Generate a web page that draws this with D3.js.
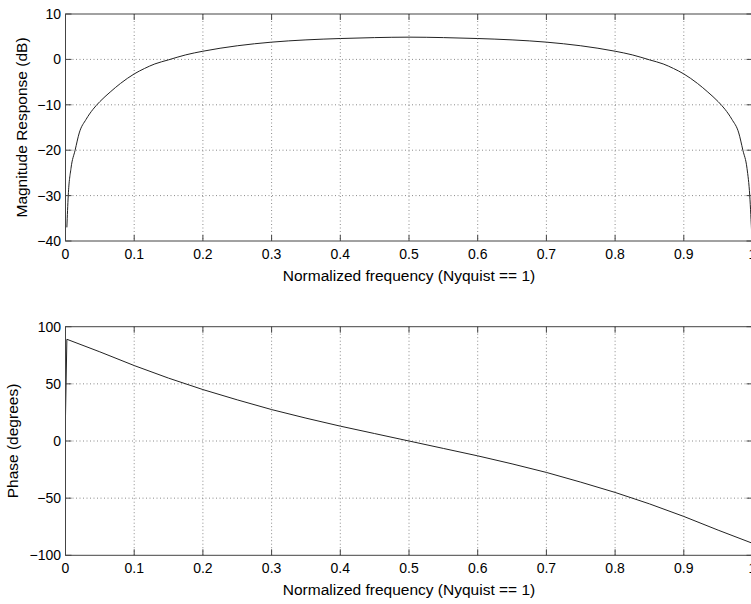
<!DOCTYPE html>
<meta charset="utf-8">
<style>
  body { margin: 0; background: #fff; }
  text { font-family: "Liberation Sans", Arial, Helvetica, sans-serif; fill: #000; }
</style>
<script src="https://d3js.org/d3.v7.min.js"></script>
<div id="chart"></div>
<script>
  // frequency response
  var magFreq = [0.002, 0.004, 0.008, 0.014, 0.02, 0.03, 0.04, 0.05, 0.065, 0.08, 0.1, 0.115, 0.13, 0.15, 0.175,
                 0.2, 0.25, 0.3, 0.35, 0.4, 0.45, 0.5, 0.55, 0.6, 0.65, 0.7, 0.75, 0.8,
                 0.825, 0.85, 0.87, 0.885, 0.9, 0.92, 0.935, 0.95, 0.96, 0.97, 0.98, 0.986, 0.992, 0.996, 0.999]
  var magDb = [-37, -30, -24, -20, -16.2, -13.2, -11.0, -9.3, -7.2, -5.3, -3.2, -2.0, -1.0, -0.1, 1.0,
               1.8, 3.0, 3.8, 4.3, 4.6, 4.8, 4.9, 4.8, 4.6, 4.3, 3.8, 3.0, 1.8,
               1.0, -0.1, -1.0, -2.0, -3.2, -5.3, -7.2, -9.3, -11.0, -13.2, -16.2, -20, -24, -30, -39]

  var phaseFreq = [0, 0.002, 0.05, 0.1, 0.15, 0.2, 0.25, 0.3, 0.35, 0.4, 0.45, 0.5,
                   0.55, 0.6, 0.65, 0.7, 0.75, 0.8, 0.85, 0.9, 0.95, 1.0]
  var phaseDeg = [22, 89, 78, 66, 55, 45, 36, 27.5, 20, 13, 6.5, 0,
                  -6.5, -13, -20, -27.5, -36, -45, -55, -66, -78, -89.5]

  var xTicks = [0, 0.1, 0.2, 0.3, 0.4, 0.5, 0.6, 0.7, 0.8, 0.9, 1]
  var magTicks = [-40, -30, -20, -10, 0, 10]
  var phaseTicks = [-100, -50, 0, 50, 100]

  var width = 751, height = 604
  var left = 65.5, right = 752.5

  var svg = d3.select("#chart").append("svg")
      .attr("width", width)
      .attr("height", height)

  var x = d3.scaleLinear().domain([0, 1]).range([left, right])

  function fmt(v) { return String(v).replace("-", "\u2212") }

  function panel(top, bottom, domain, yTicks, xs, ys, curve, ylab, ylabX) {
    var y = d3.scaleLinear().domain(domain).range([bottom, top])
    var g = svg.append("g")

    // grid
    g.selectAll(".gx").data(xTicks.slice(1, -1)).enter().append("line")
      .attr("x1", d => x(d)).attr("x2", d => x(d))
      .attr("y1", top).attr("y2", bottom)
      .attr("stroke", "#8a8a8a").attr("stroke-dasharray", "1,2.5")
    g.selectAll(".gy").data(yTicks.slice(1, -1)).enter().append("line")
      .attr("x1", left).attr("x2", right)
      .attr("y1", d => y(d)).attr("y2", d => y(d))
      .attr("stroke", "#8a8a8a").attr("stroke-dasharray", "1,2.5")

    // curve
    var clipId = "clip" + Math.round(top)
    svg.append("clipPath").attr("id", clipId).append("rect")
      .attr("x", left).attr("y", top).attr("width", right - left).attr("height", bottom - top)
    var line = d3.line().x((d, i) => x(xs[i])).y(d => y(d)).curve(curve)
    g.append("path").datum(ys)
      .attr("d", line)
      .attr("clip-path", "url(#" + clipId + ")")
      .attr("fill", "none").attr("stroke", "#222").attr("stroke-width", 1)

    // box and inner ticks on all four sides
    g.append("rect").attr("x", left).attr("y", top)
      .attr("width", right - left).attr("height", bottom - top)
      .attr("fill", "none").attr("stroke", "#444").attr("stroke-width", 1)
    var tl = 6
    xTicks.forEach(function (d) {
      g.append("line").attr("x1", x(d)).attr("x2", x(d)).attr("y1", bottom).attr("y2", bottom - tl).attr("stroke", "#444")
      g.append("line").attr("x1", x(d)).attr("x2", x(d)).attr("y1", top).attr("y2", top + tl).attr("stroke", "#444")
    })
    yTicks.forEach(function (d) {
      g.append("line").attr("x1", left).attr("x2", left + tl).attr("y1", y(d)).attr("y2", y(d)).attr("stroke", "#444")
      g.append("line").attr("x1", right).attr("x2", right - tl).attr("y1", y(d)).attr("y2", y(d)).attr("stroke", "#444")
    })

    // tick labels
    g.selectAll(".xl").data(xTicks).enter().append("text")
      .attr("x", d => x(d)).attr("y", bottom + 18)
      .attr("text-anchor", "middle").style("font-size", "14px")
      .text(d => d)
    g.selectAll(".yl").data(yTicks).enter().append("text")
      .attr("x", left - 4.5).attr("y", d => y(d) + 5)
      .attr("text-anchor", "end").style("font-size", "14px")
      .text(d => fmt(d))

    // axis labels
    g.append("text")
      .attr("x", (left + right) / 2).attr("y", bottom + 39.5)
      .attr("text-anchor", "middle").style("font-size", "15.5px")
      .text("Normalized frequency (Nyquist == 1)")
    g.append("text")
      .attr("transform", "translate(" + ylabX + "," + (top + bottom) / 2 + ") rotate(-90)")
      .attr("text-anchor", "middle").style("font-size", "15.5px")
      .text(ylab)
  }

  panel(14, 241, [-40, 10], magTicks, magFreq, magDb, d3.curveMonotoneX, "Magnitude Response (dB)", 27)
  panel(326.7, 555.3, [-100, 100], phaseTicks, phaseFreq, phaseDeg, d3.curveLinear, "Phase (degrees)", 18)
</script>
